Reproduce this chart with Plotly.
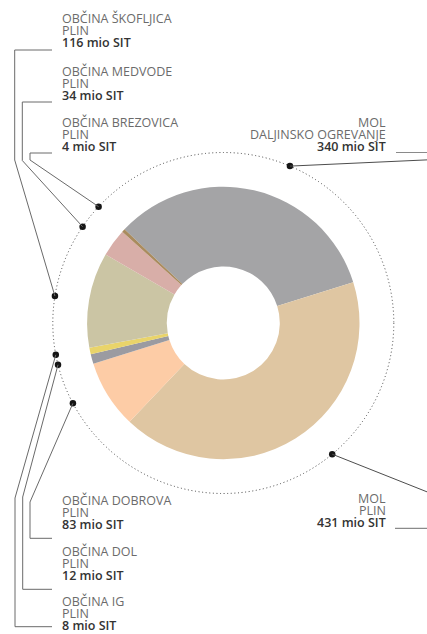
import math
import plotly.graph_objects as go

# ---- data ----
names = ["MOL", "MOL", "OBČINA DOBROVA", "OBČINA DOL", "OBČINA IG",
         "OBČINA ŠKOFLJICA", "OBČINA MEDVODE", "OBČINA BREZOVICA"]
kinds = ["DALJINSKO OGREVANJE", "PLIN", "PLIN", "PLIN", "PLIN", "PLIN", "PLIN", "PLIN"]
values = [340, 431, 83, 12, 8, 116, 34, 4]
unit = "mio SIT"
colors = ["#a4a4a6", "#dfc6a2", "#fdcca6", "#9b9ba1", "#e9d46a",
          "#cbc5a4", "#d8aea8", "#a98b5e"]

W, H = 427, 634
cx, cy = 223.3, 323.0
R_out, R_in, R_dot = 136.2, 56.5, 170.5

# callout layout (angles clockwise from top, degrees), text anchor, baseline of value line
dot_ang = [23.0, 140.3, 241.9, 255.8, 259.25, 279.1, 304.4, 313.0]
side = ["r", "r", "l", "l", "l", "l", "l", "l"]
text_x = [386.7, 387.0, 60.7, 60.7, 60.7, 60.7, 60.7, 60.7]
base_y = [150.7, 527.3, 529.3, 580.0, 630.0, 47.5, 100.2, 151.5]

# leader line routes (from label end to before the dot)
routes = [
    [(440, 159.3)],
    [(440, 497.0)],
    [(52, 538.3), (30, 538.3), (30, 502)],
    [(52, 589.3), (22.7, 589.3), (22.7, 497)],
    [(52, 626.7), (15, 626.7), (15, 498)],
    [(52, 50), (14.7, 50), (14.7, 160)],
    [(52, 102), (22.3, 102), (22.3, 160.5)],
    [(52, 153), (30, 153), (30, 160)],
]
right_ticks = [(396, 152.5), (395, 528.3)]

fig = go.Figure()

fig.add_trace(go.Pie(
    values=values, labels=[f"{n} {k}" for n, k in zip(names, kinds)],
    marker=dict(colors=colors, line=dict(width=0)),
    sort=False, direction="clockwise", rotation=-46.5,
    hole=R_in / R_out, textinfo="none", showlegend=False,
    domain=dict(x=[(cx - R_out) / W, (cx + R_out) / W],
                y=[(H - cy - R_out) / H, (H - cy + R_out) / H]),
))

shapes = [dict(type="circle", xref="x", yref="y",
               x0=cx - R_dot, x1=cx + R_dot, y0=cy - R_dot, y1=cy + R_dot,
               line=dict(color="#444444", width=1, dash="1px,2.6px"), layer="below")]

dx_list, dy_list = [], []
for i, a in enumerate(dot_ang):
    t = math.radians(a)
    px = cx + R_dot * math.sin(t)
    py = cy - R_dot * math.cos(t)
    dx_list.append(px)
    dy_list.append(py)
    pts = routes[i] + [(px, py)]
    path = "M " + " L ".join(f"{x:.1f},{y:.1f}" for x, y in pts)
    col = "#4d4d4d" if side[i] == "r" else "#6a6a6a"
    shapes.append(dict(type="path", xref="x", yref="y", path=path,
                       line=dict(color=col, width=1)))

for (x0, y0) in right_ticks:
    shapes.append(dict(type="line", xref="x", yref="y", x0=x0, x1=440, y0=y0, y1=y0,
                       line=dict(color="#8a8a8a", width=1.2)))

fig.add_trace(go.Scatter(x=dx_list, y=dy_list, mode="markers",
                         marker=dict(size=6.5, color="#151515"),
                         showlegend=False, hoverinfo="skip"))

FONT = "Open Sans"
FS = 12.5
PITCH = 12.0
OFF = 4.6
ann = []
for i in range(len(values)):
    xa = "right" if side[i] == "r" else "left"
    lines = [(names[i], "#6b6b6b", 400), (kinds[i], "#6b6b6b", 400),
             (f"{values[i]} {unit}", "#333333", 600)]
    for j, (txt, col, wgt) in enumerate(lines):
        b = base_y[i] - (2 - j) * PITCH
        ann.append(dict(x=text_x[i], y=b - OFF, xref="x", yref="y", text=txt,
                        showarrow=False, xanchor=xa, yanchor="middle",
                        borderpad=0,
                        font=dict(family=FONT, size=FS, color=col, weight=wgt)))

fig.update_layout(
    width=W, height=H, margin=dict(l=0, r=0, t=0, b=0),
    paper_bgcolor="white", plot_bgcolor="white",
    xaxis=dict(range=[0, W], visible=False, fixedrange=True, domain=[0, 1]),
    yaxis=dict(range=[H, 0], visible=False, fixedrange=True, domain=[0, 1]),
    shapes=shapes, annotations=ann,
)

fig.write_html("out.html", config={"displayModeBar": False},
               post_script="document.body.style.margin='0px';document.body.style.overflow='hidden';")
